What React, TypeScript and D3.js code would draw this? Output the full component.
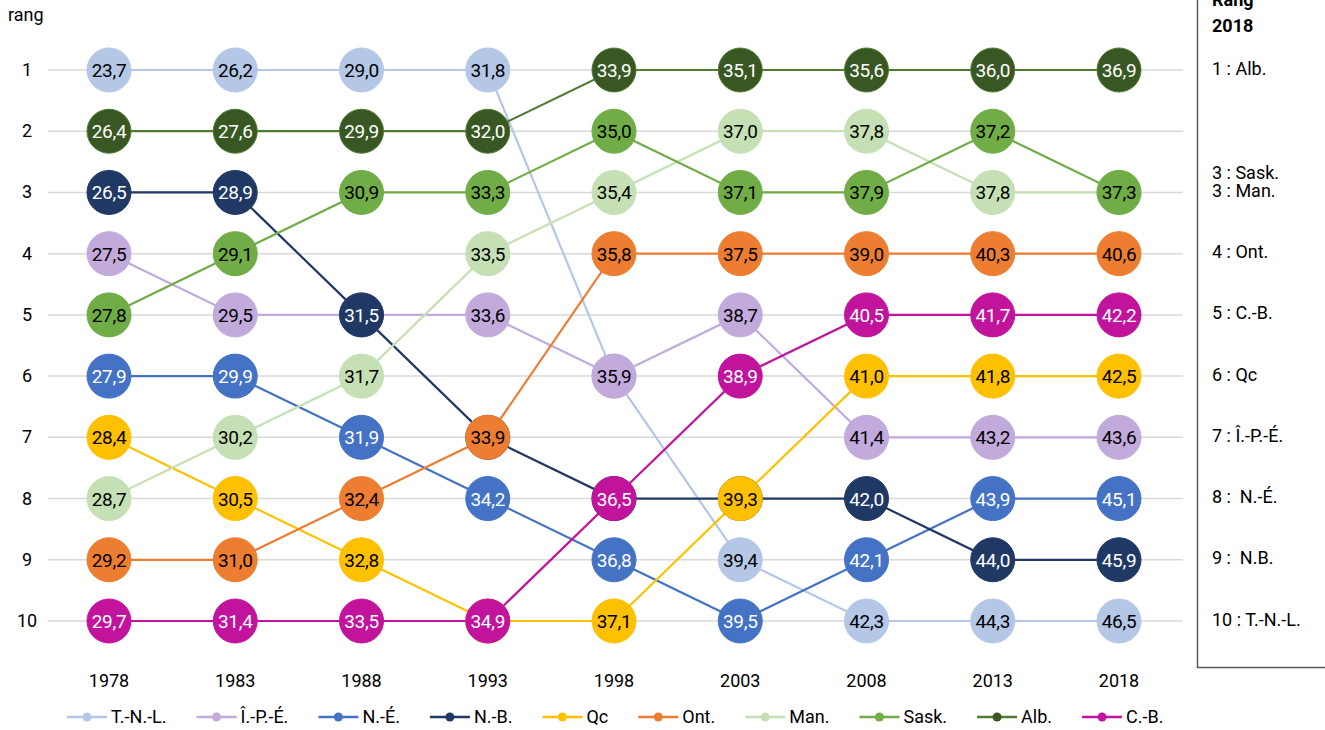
import React, { useEffect, useRef } from 'react';
import * as d3 from 'd3';

const years = [1978, 1983, 1988, 1993, 1998, 2003, 2008, 2013, 2018];
const rankTicks = [1, 2, 3, 4, 5, 6, 7, 8, 9, 10];
const provinces = ['T.-N.-L.', 'Î.-P.-É.', 'N.-É.', 'N.-B.', 'Qc', 'Ont.', 'Man.', 'Sask.', 'Alb.', 'C.-B.'];
const fillColors = ['#b4c7e7', '#c3aadc', '#4472c4', '#203864', '#ffc000', '#ed7d31', '#c5e0b4', '#70ad47', '#385723', '#c2139c'];
const lineColors = ['#b4c7e7', '#c3aadc', '#4472c4', '#203864', '#ffc000', '#ed7d31', '#c5e0b4', '#70ad47', '#4f7c31', '#c2139c'];
const labelColors = ['#000', '#000', '#fff', '#fff', '#000', '#000', '#000', '#000', '#fff', '#fff'];

// rang par année
const ranks = [
  [1, 1, 1, 1, 6, 9, 10, 10, 10],
  [4, 5, 5, 5, 6, 5, 7, 7, 7],
  [6, 6, 7, 8, 9, 10, 9, 8, 8],
  [3, 3, 5, 7, 8, 8, 8, 9, 9],
  [7, 8, 9, 10, 10, 8, 6, 6, 6],
  [9, 9, 8, 7, 4, 4, 4, 4, 4],
  [8, 7, 6, 4, 3, 2, 2, 3, 3],
  [5, 4, 3, 3, 2, 3, 3, 2, 3],
  [2, 2, 2, 2, 1, 1, 1, 1, 1],
  [10, 10, 10, 10, 8, 6, 5, 5, 5],
];

// âge (valeur affichée)
const values = [
  [23.7, 26.2, 29.0, 31.8, 35.9, 39.4, 42.3, 44.3, 46.5],
  [27.5, 29.5, 31.5, 33.6, 35.9, 38.7, 41.4, 43.2, 43.6],
  [27.9, 29.9, 31.9, 34.2, 36.8, 39.5, 42.1, 43.9, 45.1],
  [26.5, 28.9, 31.5, 33.9, 36.5, 39.3, 42.0, 44.0, 45.9],
  [28.4, 30.5, 32.8, 34.9, 37.1, 39.3, 41.0, 41.8, 42.5],
  [29.2, 31.0, 32.4, 33.9, 35.8, 37.5, 39.0, 40.3, 40.6],
  [28.7, 30.2, 31.7, 33.5, 35.4, 37.0, 37.8, 37.8, 37.3],
  [27.8, 29.1, 30.9, 33.3, 35.0, 37.1, 37.9, 37.2, 37.3],
  [26.4, 27.6, 29.9, 32.0, 33.9, 35.1, 35.6, 36.0, 36.9],
  [29.7, 31.4, 33.5, 34.9, 36.5, 38.9, 40.5, 41.7, 42.2],
];

const rank2018Labels = ['1 : Alb.', '3 : Sask.', '3 : Man.', '4 : Ont.', '5 : C.-B.', '6 : Qc', '7 : Î.-P.-É.', '8 :  N.-É.', '9 :  N.B.', '10 : T.-N.-L.'];
const rank2018Pos = [1, 2.7, 3, 4, 5, 6, 7, 8, 9, 10];

const FONT = 'Roboto, "Liberation Sans", sans-serif';
const W = 1325;
const H = 730;

const App = () => {
  const ref = useRef<SVGSVGElement>(null);

  useEffect(() => {
    const svg = d3.select(ref.current);
    svg.selectAll('*').remove();

    const x = d3.scalePoint<number>().domain(years).range([109, 1119]);
    const y = d3.scaleLinear().domain([1, 10]).range([70, 621]);
    const fmt = (v: number) => v.toFixed(1).replace('.', ',');

    // grille
    svg.append('g')
      .selectAll('line')
      .data(rankTicks)
      .enter().append('line')
      .attr('x1', 48).attr('x2', 1183)
      .attr('y1', d => y(d)).attr('y2', d => y(d))
      .attr('stroke', '#d9d9d9')
      .attr('stroke-width', 1.5);

    svg.append('text')
      .attr('x', 8).attr('y', 21)
      .style('font-family', FONT).style('font-size', '18px')
      .text('rang');

    svg.append('g')
      .selectAll('text')
      .data(rankTicks)
      .enter().append('text')
      .attr('x', 27).attr('y', d => y(d) + 6)
      .attr('text-anchor', 'middle')
      .style('font-family', FONT).style('font-size', '18px')
      .text(d => d);

    svg.append('g')
      .selectAll('text')
      .data(years)
      .enter().append('text')
      .attr('x', d => x(d)!).attr('y', 687)
      .attr('text-anchor', 'middle')
      .style('font-family', FONT).style('font-size', '18px')
      .text(d => d);

    const line = d3.line<number>()
      .x((_, i) => x(years[i])!)
      .y(r => y(r));

    svg.append('g')
      .selectAll('path')
      .data(provinces)
      .enter().append('path')
      .attr('d', (_, i) => line(ranks[i]))
      .attr('fill', 'none')
      .attr('stroke', (_, i) => lineColors[i])
      .attr('stroke-width', 2.2);

    provinces.forEach((_, i) => {
      const g = svg.append('g');
      const pts = years.map((yr, j) => ({ yr, r: ranks[i][j], v: values[i][j] }));
      g.selectAll('circle')
        .data(pts)
        .enter().append('circle')
        .attr('cx', d => x(d.yr)!).attr('cy', d => y(d.r))
        .attr('r', 22)
        .attr('fill', fillColors[i])
        .attr('stroke', lineColors[i])
        .attr('stroke-width', 1);
      g.selectAll('text')
        .data(pts)
        .enter().append('text')
        .attr('x', d => x(d.yr)!).attr('y', d => y(d.r) + 7)
        .attr('text-anchor', 'middle')
        .attr('fill', labelColors[i])
        .style('font-family', FONT).style('font-size', '19px')
        .style('letter-spacing', '-0.3px')
        .text(d => fmt(d.v));
    });

    // encadré rang 2018
    svg.append('path')
      .attr('d', 'M1197.5,0 V667.5 H1325')
      .attr('fill', 'none')
      .attr('stroke', '#595959')
      .attr('stroke-width', 1.5);

    svg.append('text')
      .attr('x', 1212).attr('y', 6)
      .style('font-family', FONT).style('font-size', '18px').style('font-weight', 'bold')
      .text('Rang');
    svg.append('text')
      .attr('x', 1212).attr('y', 32)
      .style('font-family', FONT).style('font-size', '18px').style('font-weight', 'bold')
      .text('2018');

    svg.append('g')
      .selectAll('text')
      .data(rank2018Labels)
      .enter().append('text')
      .attr('x', 1212)
      .attr('y', (_, i) => y(rank2018Pos[i]) + 4.5)
      .style('font-family', FONT).style('font-size', '18px')
      .style('white-space', 'pre')
      .text(d => d);

    // légende
    const leg = svg.append('g').attr('transform', 'translate(0,717)');
    let cx = 67;
    provinces.forEach((p, i) => {
      const it = leg.append('g').attr('transform', `translate(${cx},0)`);
      it.append('line')
        .attr('x1', 0).attr('x2', 40)
        .attr('stroke', lineColors[i]).attr('stroke-width', 2.5);
      it.append('circle')
        .attr('cx', 20).attr('r', 4.5)
        .attr('fill', fillColors[i]);
      const t = it.append('text')
        .attr('x', 44).attr('y', 6)
        .style('font-family', FONT).style('font-size', '18px')
        .text(p);
      const tw = (t.node() as SVGTextElement).getComputedTextLength();
      cx += 44 + tw + 30;
    });
  }, []);

  return <svg ref={ref} width={W} height={H} style={{ position: 'absolute', left: 0, top: 0 }} />;
};

export default App;
